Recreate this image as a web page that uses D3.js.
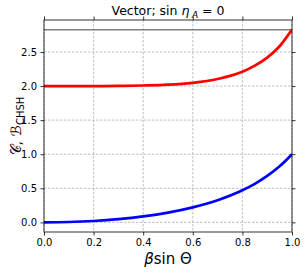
<!DOCTYPE html>
<html>
<head>
<meta charset="utf-8">
<script src="https://cdn.jsdelivr.net/npm/d3@7/dist/d3.min.js"></script>
<style>
  body { margin: 0; background: #fff; }
  text { font-family: "DejaVu Sans", sans-serif; fill: #000; }
</style>
</head>
<body>
<svg id="chart"></svg>
<script>
// values
const betaSin = [0, 0.1, 0.2, 0.3, 0.4, 0.5, 0.6, 0.7, 0.8, 0.85, 0.9, 0.95, 1.0];
const concurrence = [0, 0.005, 0.020, 0.047, 0.087, 0.143, 0.220, 0.325, 0.471, 0.565, 0.681, 0.822, 1.0];
const chsh = [2.000, 2.000, 2.000, 2.002, 2.008, 2.020, 2.048, 2.104, 2.210, 2.299, 2.418, 2.584, 2.828];
const tsirelson = 2.828;
const xTicks = [0, 0.2, 0.4, 0.6, 0.8, 1.0];
const yTicks = [0, 0.5, 1.0, 1.5, 2.0, 2.5];

const W = 306, H = 272;
const margin = {top: 20, right: 14, bottom: 40, left: 44};
const width = W - margin.left - margin.right;
const height = H - margin.top - margin.bottom;

const svg = d3.select('#chart').attr('width', W).attr('height', H);
const g = svg.append('g').attr('transform', `translate(${margin.left},${margin.top})`);

// Set the ranges
const x = d3.scaleLinear().domain([0, 1]).range([0, width]);
const yMax = d3.max(chsh);
const pad = yMax * 0.05;
const y = d3.scaleLinear().domain([-pad, yMax + pad]).range([height, 0]);

// grid
g.append('g').selectAll('line').data(xTicks).join('line')
  .attr('x1', d => x(d)).attr('x2', d => x(d)).attr('y1', 0).attr('y2', height)
  .attr('stroke', '#b0b0b0').attr('stroke-width', 0.8).attr('stroke-dasharray', '2.5,1.5');
g.append('g').selectAll('line').data(yTicks).join('line')
  .attr('x1', 0).attr('x2', width).attr('y1', d => y(d)).attr('y2', d => y(d))
  .attr('stroke', '#b0b0b0').attr('stroke-width', 0.8).attr('stroke-dasharray', '2.5,1.5');

// axes, ticks on all four sides
const fmt = d3.format('.1f');
const xAxis = g.append('g').attr('transform', `translate(0,${height})`)
  .call(d3.axisBottom(x).tickValues(xTicks).tickFormat(fmt).tickSize(3.5).tickPadding(3));
const yAxis = g.append('g')
  .call(d3.axisLeft(y).tickValues(yTicks).tickFormat(fmt).tickSize(3.5).tickPadding(3.5));
const xTop = g.append('g')
  .call(d3.axisTop(x).tickValues(xTicks).tickFormat('').tickSize(3.5));
const yRight = g.append('g').attr('transform', `translate(${width},0)`)
  .call(d3.axisRight(y).tickValues(yTicks).tickFormat('').tickSize(3.5));
[xAxis, yAxis, xTop, yRight].forEach(a => {
  a.select('.domain').remove();
  a.selectAll('line').attr('stroke', '#000').attr('stroke-width', 0.8);
  a.selectAll('text').attr('font-size', 10).attr('font-family', 'DejaVu Sans');
});

const data = betaSin.map((b, i) => ({b: b, c: concurrence[i], s: chsh[i]}));

// clip
g.append('clipPath').attr('id', 'clip').append('rect').attr('width', width).attr('height', height);

// Tsirelson bound
g.append('line')
  .attr('x1', 0).attr('x2', width).attr('y1', y(tsirelson)).attr('y2', y(tsirelson))
  .attr('stroke', '#808080').attr('stroke-width', 1.5);

const curveC = d3.line().x(d => x(d.b)).y(d => y(d.c)).curve(d3.curveMonotoneX);
const curveS = d3.line().x(d => x(d.b)).y(d => y(d.s)).curve(d3.curveMonotoneX);

g.append('path').attr('d', curveS(data)).attr('fill', 'none')
  .attr('stroke', '#ff0000').attr('stroke-width', 2.7).attr('clip-path', 'url(#clip)');
g.append('path').attr('d', curveC(data)).attr('fill', 'none')
  .attr('stroke', '#0000ff').attr('stroke-width', 2.7).attr('clip-path', 'url(#clip)');

// frame
g.append('rect').attr('width', width).attr('height', height)
  .attr('fill', 'none').attr('stroke', '#000').attr('stroke-width', 0.8);

// pieces of text laid out one after another
function runText(parent, parts) {
  let cx = 0;
  const nodes = parts.map(p => {
    const t = parent.append('text').attr('x', cx).attr('y', p.dy || 0)
      .attr('font-size', p.size).text(p.text);
    if (p.italic) t.attr('font-style', 'italic');
    if (p.family) t.attr('font-family', p.family);
    cx += t.node().getComputedTextLength() + (p.gap || 0);
    return t;
  });
  nodes.forEach(t => t.attr('x', +t.attr('x') - cx / 2));
}

// title
runText(svg.append('g').attr('transform', `translate(${margin.left + width / 2},15)`), [
  {text: 'Vector; sin\u00a0', size: 12.5},
  {text: 'η', size: 12.5, italic: true, family: 'DejaVu Sans', gap: 2.5},
  {text: 'A', size: 9, italic: true, dy: 2.5},
  {text: '\u00a0= 0', size: 12.5}
]);

// x label
runText(svg.append('g').attr('transform', `translate(${margin.left + width / 2},264)`), [
  {text: 'β', size: 15, italic: true},
  {text: 'sin\u00a0Θ', size: 15}
]);

// y label
runText(svg.append('g').attr('transform', `translate(21,${margin.top + height / 2}) rotate(-90)`), [
  {text: '𝒞,\u00a0ℬ', size: 14, gap: 0.5},
  {text: 'CHSH', size: 10, dy: 3}
]);
</script>
</body>
</html>
